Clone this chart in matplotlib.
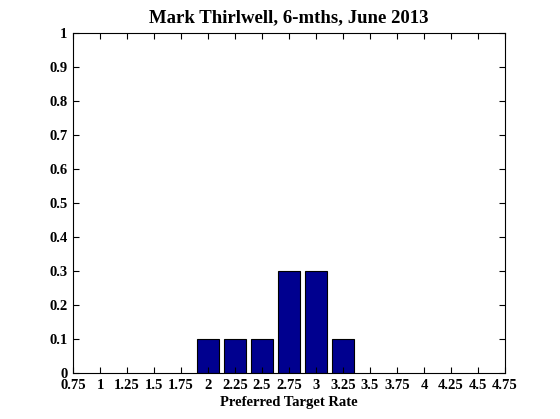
import matplotlib
matplotlib.use("Agg")
import matplotlib.pyplot as plt

rates = [2.0, 2.25, 2.5, 2.75, 3.0, 3.25]
probs = [0.1, 0.1, 0.1, 0.3, 0.3, 0.1]
xticks = [0.75, 1, 1.25, 1.5, 1.75, 2, 2.25, 2.5, 2.75, 3, 3.25, 3.5, 3.75, 4, 4.25, 4.5, 4.75]
xlabels = ["0.75", "1", "1.25", "1.5", "1.75", "2", "2.25", "2.5", "2.75", "3", "3.25",
           "3.5", "3.75", "4", "4.25", "4.5", "4.75"]
yticks = [0, 0.1, 0.2, 0.3, 0.4, 0.5, 0.6, 0.7, 0.8, 0.9, 1]
ylabels = ["0", "0.1", "0.2", "0.3", "0.4", "0.5", "0.6", "0.7", "0.8", "0.9", "1"]

plt.rcParams['font.family'] = ['Liberation Serif', 'DejaVu Serif']
plt.rcParams['font.weight'] = 'bold'

fig = plt.figure(figsize=(5.6, 4.19), dpi=100)
ax = fig.add_axes([73 / 560, 46 / 419, 432 / 560, 340 / 419])
ax.bar(rates, probs, width=0.2, color='#00008f', edgecolor='black', linewidth=0.8)
ax.set_xlim(0.75, 4.75)
ax.set_ylim(0, 1)
ax.set_xticks(xticks)
ax.set_xticklabels(xlabels, fontsize=10.5, fontweight='bold')
ax.set_yticks(yticks)
ax.set_yticklabels(ylabels, fontsize=10.5, fontweight='bold')
ax.tick_params(direction='in', top=True, right=True, length=4, pad=4)
ax.set_xlabel("Preferred Target Rate", fontsize=10.5, fontweight='bold', labelpad=3)
ax.set_title("Mark Thirlwell, 6-mths, June 2013", fontsize=13.5, fontweight='bold', pad=8)

fig.savefig("out.png", dpi=100)
